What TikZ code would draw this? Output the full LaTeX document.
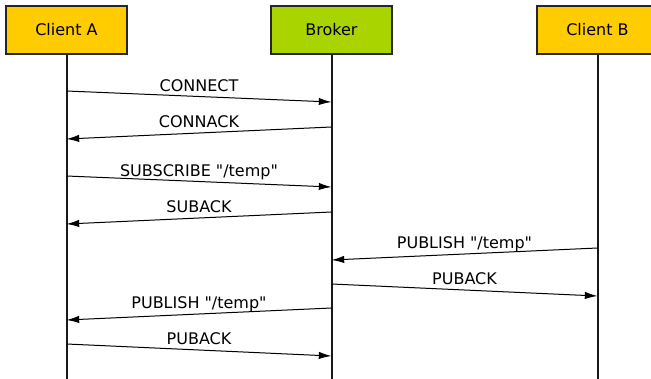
\documentclass[tikz,border=0pt]{standalone}
\usepackage{fontspec}
\setmainfont[Ligatures=TeXOff]{DejaVu Sans}
\usetikzlibrary{arrows.meta}

\definecolor{clientyellow}{HTML}{FFCC00}
\definecolor{brokergreen}{HTML}{AAD400}

\begin{document}
\begin{tikzpicture}[x=0.75pt,y=-0.75pt,>={Latex[length=9.5pt,width=5.5pt]},
    font=\fontsize{12}{14}\selectfont,
    actor/.style={draw=black!85,line width=1.1pt,minimum width=90.75pt,minimum height=36pt,inner sep=0pt},
    life/.style={line width=1.5pt,black!90},
    msg/.style={->,line width=0.75pt},
    lbl/.style={anchor=base,yshift=4pt,inner sep=0pt}]
  \useasboundingbox (0,0) rectangle (651,379);
  % participants
  \node[actor,fill=clientyellow] (ca) at (66.5,30) {Client A};
  \node[actor,fill=brokergreen] (br) at (331.5,30) {Broker};
  \node[actor,fill=clientyellow] (cb) at (597.5,30) {Client B};
  % lifelines
  \draw[life] (ca.south) -- (ca.south |- 0,379);
  \draw[life] (br.south) -- (br.south |- 0,379);
  \draw[life] (cb.south) -- (cb.south |- 0,379);
  % messages
  \draw[msg] (ca.south |- 0,91) -- node[lbl] {CONNECT} (br.south |- 0,102);
  \draw[msg] (br.south |- 0,127) -- node[lbl] {CONNACK} (ca.south |- 0,139);
  \draw[msg] (ca.south |- 0,176) -- node[lbl] {SUBSCRIBE "/temp"} (br.south |- 0,187);
  \draw[msg] (br.south |- 0,212) -- node[lbl] {SUBACK} (ca.south |- 0,224);
  \draw[msg] (cb.south |- 0,248) -- node[lbl] {PUBLISH "/temp"} (br.south |- 0,260);
  \draw[msg] (br.south |- 0,284) -- node[lbl] {PUBACK} (cb.south |- 0,296);
  \draw[msg] (br.south |- 0,308) -- node[lbl] {PUBLISH "/temp"} (ca.south |- 0,320);
  \draw[msg] (ca.south |- 0,344) -- node[lbl] {PUBACK} (br.south |- 0,356);
\end{tikzpicture}
\end{document}
